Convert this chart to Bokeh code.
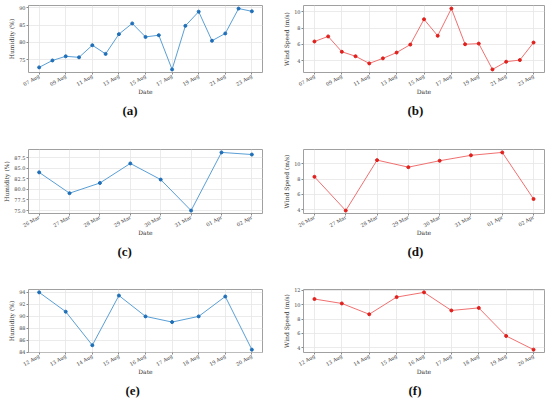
import math
import pandas as pd
from bokeh.plotting import figure
from bokeh.layouts import gridplot
from bokeh.models import FixedTicker, DatetimeTickFormatter, Range1d, Title, NumeralTickFormatter
from bokeh.embed import file_html
from bokeh.resources import INLINE

# ---- data ----
dates_aug_a = ["2023-08-07", "2023-08-08", "2023-08-09", "2023-08-10", "2023-08-11",
               "2023-08-12", "2023-08-13", "2023-08-14", "2023-08-15", "2023-08-16",
               "2023-08-17", "2023-08-18", "2023-08-19", "2023-08-20", "2023-08-21",
               "2023-08-22", "2023-08-23"]
humidity_a = [72.8, 74.8, 76.0, 75.7, 79.2, 76.7, 82.4, 85.5, 81.6, 82.1,
              72.2, 84.8, 88.9, 80.5, 82.6, 89.8, 89.0]
wind_b = [6.36, 6.98, 5.10, 4.55, 3.67, 4.29, 5.00, 5.98, 9.08, 7.06,
          10.40, 6.02, 6.10, 2.93, 3.88, 4.08, 6.23]
xticks_ab = ["2023-08-07", "2023-08-09", "2023-08-11", "2023-08-13", "2023-08-15",
             "2023-08-17", "2023-08-19", "2023-08-21", "2023-08-23"]

dates_mar = ["2024-03-26", "2024-03-27", "2024-03-28", "2024-03-29", "2024-03-30",
             "2024-03-31", "2024-04-01", "2024-04-02"]
humidity_c = [84.0, 79.1, 81.5, 86.1, 82.3, 75.0, 88.7, 88.2]
wind_d = [8.29, 3.87, 10.47, 9.55, 10.39, 11.10, 11.48, 5.39]

dates_aug_e = ["2023-08-12", "2023-08-13", "2023-08-14", "2023-08-15", "2023-08-16",
               "2023-08-17", "2023-08-18", "2023-08-19", "2023-08-20"]
humidity_e = [94.0, 90.77, 85.16, 93.47, 89.98, 89.03, 89.98, 93.31, 84.42]
wind_f = [10.80, 10.18, 8.67, 11.07, 11.73, 9.20, 9.56, 5.64, 3.73]

yticks_a = [75, 80, 85, 90]
yticks_b = [4, 6, 8, 10]
yticks_c = [75.0, 77.5, 80.0, 82.5, 85.0, 87.5]
yticks_d = [4, 6, 8, 10]
yticks_e = [84, 86, 88, 90, 92, 94]
yticks_f = [4, 6, 8, 10, 12]

BLUE_LINE, BLUE_MARK = "#5a9fd6", "#1f6fb8"
RED_LINE, RED_MARK = "#f07070", "#e0201c"
FONT = "DejaVu Serif"
CAP_FONT = "Liberation Serif"


def ms(d):
    return pd.Timestamp(d).value / 1e6


def panel(dates, vals, yticks, ylabel, caption, lc, mc, width, height,
          bl, br, bt, bb, cap_off, yfmt="0", xticks=None):
    xs = [pd.Timestamp(d) for d in dates]
    x0, x1 = ms(dates[0]), ms(dates[-1])
    px = (x1 - x0) * 0.05
    lo, hi = min(vals), max(vals)
    py = (hi - lo) * 0.05
    p = figure(width=width, height=height, x_axis_type="datetime",
               x_range=Range1d(x0 - px, x1 + px), y_range=Range1d(lo - py, hi + py),
               output_backend="svg", toolbar_location=None,
               min_border_left=bl, min_border_right=br, min_border_top=bt,
               min_border_bottom=bb)
    p.line(xs, vals, line_color=lc, line_width=1)
    p.scatter(xs, vals, size=3, fill_color=mc, line_color=mc)
    p.xaxis.ticker = FixedTicker(ticks=[ms(d) for d in (xticks or dates)])
    p.xaxis.formatter = DatetimeTickFormatter(days="%d %b", months="%d %b")
    p.yaxis.ticker = FixedTicker(ticks=yticks)
    p.yaxis.formatter = NumeralTickFormatter(format=yfmt)
    p.xaxis.major_label_orientation = math.pi / 6
    for ax in (p.xaxis[0], p.yaxis[0]):
        ax.axis_line_color = None
        ax.major_tick_line_color = "#888888"
        ax.major_tick_out = 2
        ax.major_tick_in = 0
        ax.minor_tick_line_color = None
        ax.major_label_text_font = FONT
        ax.major_label_text_font_size = "5px"
        ax.major_label_text_color = "#444444"
        ax.major_label_standoff = 1
        ax.axis_label_text_font = FONT
        ax.axis_label_text_font_size = "6px"
        ax.axis_label_text_font_style = "normal"
        ax.axis_label_text_color = "#333333"
        ax.axis_label_standoff = 1
    p.xaxis.axis_label_standoff = -5
    p.xaxis.axis_label = "Date"
    p.yaxis.axis_label = ylabel
    p.grid.grid_line_color = "#e6e6e6"
    p.grid.grid_line_width = 0.8
    p.outline_line_color = "#a0a0a0"
    p.outline_line_width = 1
    p.background_fill_color = "white"
    p.border_fill_color = "white"
    p.add_layout(Title(text=caption, align="left", offset=cap_off, text_font=CAP_FONT,
                       text_font_size="13px", text_font_style="bold",
                       text_color="#111111", standoff=6), "below")
    return p


WL, WR = 275, 273
pa = panel(dates_aug_a, humidity_a, yticks_a, "Humidity (%)", "(a)", BLUE_LINE, BLUE_MARK,
           WL, 147, 20, 13, 5, 75, 94, xticks=xticks_ab)
pb = panel(dates_aug_a, wind_b, yticks_b, "Wind Speed (m/s)", "(b)", RED_LINE, RED_MARK,
           WR, 147, 28, 4, 5, 75, 104, xticks=xticks_ab)
pc = panel(dates_mar, humidity_c, yticks_c, "Humidity (%)", "(c)", BLUE_LINE, BLUE_MARK,
           WL, 140, 23, 13, 2, 74, 89, yfmt="0.0")
pd_ = panel(dates_mar, wind_d, yticks_d, "Wind Speed (m/s)", "(d)", RED_LINE, RED_MARK,
            WR, 140, 28, 4, 2, 74, 104)
pe = panel(dates_aug_e, humidity_e, yticks_e, "Humidity (%)", "(e)", BLUE_LINE, BLUE_MARK,
           WL, 113, 20, 13, 2, 45, 97)
pf = panel(dates_aug_e, wind_f, yticks_f, "Wind Speed (m/s)", "(f)", RED_LINE, RED_MARK,
           WR, 113, 28, 4, 2, 45, 105)

grid = gridplot([[pa, pb], [pc, pd_], [pe, pf]], toolbar_location=None)
open("out.html", "w").write(file_html(grid, INLINE))
